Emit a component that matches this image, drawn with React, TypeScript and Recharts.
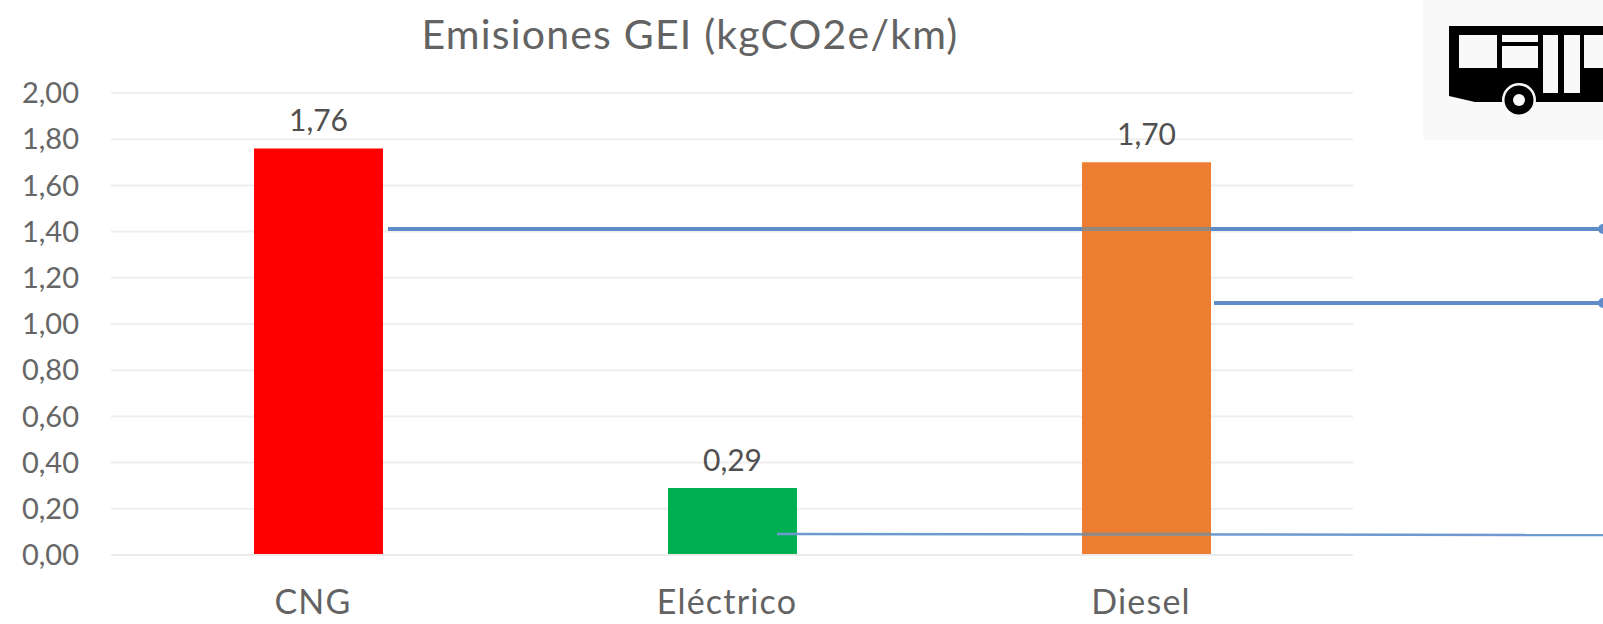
import { BarChart, Bar, Cell, CartesianGrid, LabelList, XAxis, YAxis } from "recharts";

const categories = ["CNG", "Eléctrico", "Diesel"];
const emissions = [1.76, 0.29, 1.7];
const barColors = ["#ff0000", "#00b050", "#ed7d31"];
const yTicks = [0, 0.2, 0.4, 0.6, 0.8, 1, 1.2, 1.4, 1.6, 1.8, 2];

const data = categories.map((name, i) => ({ name, value: emissions[i] }));

const FONT = "Lato, 'Open Sans', sans-serif";
const comma = (v: number) => v.toFixed(2).replace(".", ",");

// callout lines and the bus pictogram sit on top of the chart
function Overlay() {
  const blue = "#5f8cc8";
  return (
    <svg width={1603} height={624} style={{ position: "absolute", left: 0, top: 0 }}>
      <line x1={388} x2={1603} y1={229} y2={229} stroke={blue} strokeWidth={4} />
      <line x1={1082} x2={1211} y1={229} y2={229} stroke="#93897f" strokeWidth={4} />
      <circle cx={1603} cy={229} r={5} fill={blue} />
      <line x1={1214} x2={1603} y1={303} y2={303} stroke={blue} strokeWidth={4} />
      <circle cx={1603} cy={303} r={5} fill={blue} />
      <line x1={777} x2={1603} y1={534} y2={535} stroke="#6f9ad0" strokeWidth={2.5} />
      <line x1={1082} x2={1211} y1={534} y2={534} stroke="#93897f" strokeWidth={3} />

      <rect x={1423} y={0} width={180} height={140} fill="#f9f9f9" />
      <path d="M1449 26H1603V102H1475L1449 96Z" fill="#000" />
      <g fill="#f9f9f9">
        <rect x={1459} y={35} width={38} height={33} />
        <rect x={1502} y={35} width={36} height={7} />
        <rect x={1502} y={46} width={36} height={22} />
        <rect x={1543} y={35} width={15} height={58} />
        <rect x={1564} y={35} width={16} height={58} />
        <rect x={1584} y={35} width={19} height={33} />
      </g>
      <circle cx={1519} cy={100} r={17} fill="#f9f9f9" />
      <circle cx={1519} cy={100} r={14.5} fill="#000" />
      <circle cx={1519} cy={100} r={6} fill="#f9f9f9" />
    </svg>
  );
}

export default function App() {
  return (
    <div style={{ position: "absolute", left: 0, top: 0, width: 1603, height: 624, background: "#fff", overflow: "hidden" }}>
      <div
        style={{
          position: "absolute",
          left: 0,
          width: 1380,
          top: 11,
          textAlign: "center",
          fontFamily: FONT,
          fontSize: 41,
          letterSpacing: 1.2,
          lineHeight: "46px",
          color: "#636363",
        }}
      >
        Emisiones GEI (kgCO2e/km)
      </div>
      <div style={{ position: "absolute", left: 0, top: 0 }}>
        <BarChart
          width={1603}
          height={624}
          data={data}
          margin={{ top: 93, right: 250, bottom: 0, left: 0 }}
          style={{ fontFamily: FONT }}
        >
          <CartesianGrid vertical={false} stroke="#eeeeee" strokeWidth={2} />
          <XAxis
            dataKey="name"
            height={69}
            axisLine={{ stroke: "#ebebeb", strokeWidth: 2 }}
            tickLine={false}
            tickMargin={29}
            tick={{ fill: "#636363", fontSize: 34, dx: -5, letterSpacing: 1.2 }}
          />
          <YAxis
            width={111}
            domain={[0, 2]}
            ticks={yTicks}
            tickFormatter={comma}
            axisLine={false}
            tickLine={false}
            tickMargin={26}
            tick={{ fill: "#666666", fontSize: 29 }}
          />
          <Bar dataKey="value" barSize={129} isAnimationActive={false}>
            {data.map((d, i) => (
              <Cell key={d.name} fill={barColors[i]} />
            ))}
            <LabelList
              dataKey="value"
              position="top"
              offset={17}
              formatter={(v: any) => comma(Number(v))}
              fill="#505050"
              fontSize={30}
            />
          </Bar>
        </BarChart>
      </div>
      <Overlay />
    </div>
  );
}
